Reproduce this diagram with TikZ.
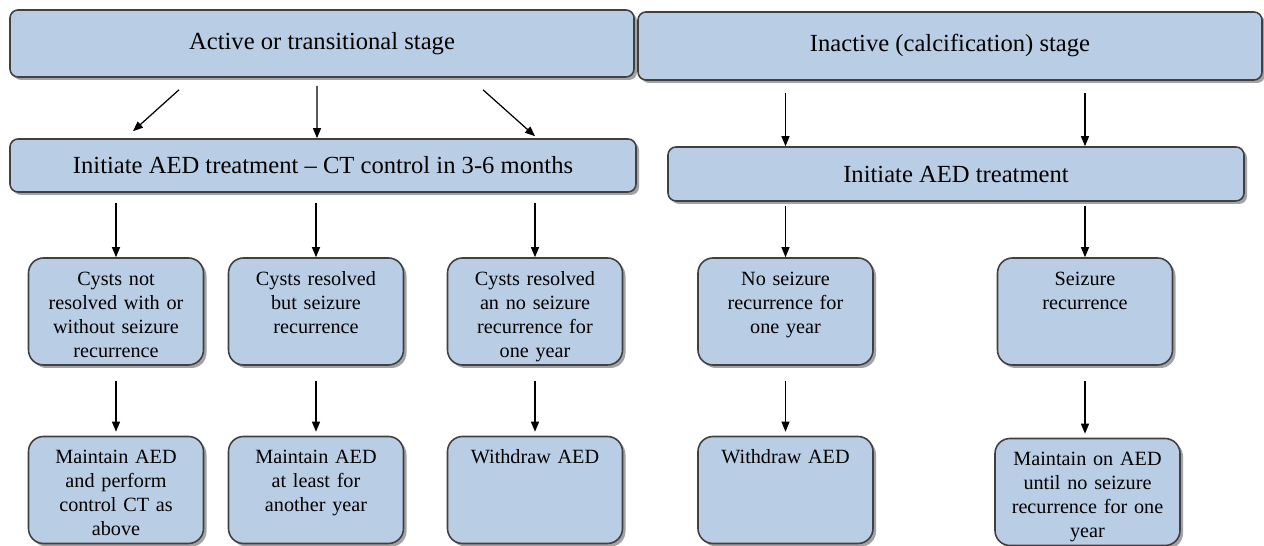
\documentclass[tikz,border=0pt]{standalone}
\usepackage{fontspec}
\setmainfont{Liberation Serif}
\usetikzlibrary{arrows.meta,shadows,calc}
\definecolor{boxblue}{RGB}{185,205,229}
\begin{document}
\begin{tikzpicture}[
  boxshadow/.style={drop shadow={shadow xshift=0.06cm, shadow yshift=-0.06cm, fill=black!65, opacity=0.55}},
  stagebox/.style={draw=black!75, line width=0.9pt, fill=boxblue, rounded corners=0.16cm, boxshadow,
    font=\fontsize{14}{17}\selectfont, inner sep=0pt},
  stepbox/.style={draw=black!75, line width=0.9pt, fill=boxblue, rounded corners=0.3cm, boxshadow,
    font=\fontsize{11.5}{13.6}\selectfont, align=center, text width=3.3cm, inner xsep=0.1cm,
    inner ysep=0.1cm, text height=0.45cm, text depth=1.49cm},
  arr/.style={-{Triangle[length=0.2cm,width=0.16cm]}, line width=0.7pt}]
\fill[white] (0,0) rectangle (25.28,10.92);
\useasboundingbox (0,0) rectangle (25.28,10.92);
\node[stagebox, minimum width=12.48cm, minimum height=1.34cm] (active) at (6.44,10.05) {Active or transitional stage};
\node[stagebox, minimum width=12.48cm, minimum height=1.36cm] (inactive) at (19.0,10.0) {Inactive (calcification) stage};
\node[stagebox, minimum width=12.52cm, minimum height=1.06cm] (initA) at (6.46,7.61) {Initiate AED treatment -- CT control in 3-6 months};
\node[stagebox, minimum width=11.52cm, minimum height=1.08cm] (initI) at (19.12,7.44) {Initiate AED treatment};
\node[stepbox] (notres) at (2.32,4.69) {Cysts not\\ resolved with or\\ without seizure\\ recurrence};
\node[stepbox] (resrec) at (6.32,4.69) {Cysts resolved\\ but seizure\\ recurrence};
\node[stepbox] (resnorec) at (10.70,4.69) {Cysts resolved\\ an no seizure\\ recurrence for\\ one year};
\node[stepbox] (norec) at (15.71,4.69) {No seizure\\ recurrence for\\ one year};
\node[stepbox] (rec) at (21.70,4.69) {Seizure\\ recurrence};
\node[stepbox] (maintctrl) at (2.32,1.12) {Maintain AED\\ and perform\\ control CT as\\ above};
\node[stepbox] (maintyear) at (6.32,1.12) {Maintain AED\\ at least for\\ another year};
\node[stepbox] (withdrawA) at (10.70,1.12) {Withdraw AED};
\node[stepbox] (withdrawI) at (15.71,1.12) {Withdraw AED};
\node[stepbox, text width=3.5cm] (maintuntil) at (21.75,1.08) {Maintain on AED\\ until no seizure\\ recurrence for one\\ year};
\draw[arr] ([xshift=-2.86cm,yshift=-0.24cm]active.south) -- ([xshift=-3.8cm,yshift=0.14cm]initA.north);
\draw[arr] ([xshift=-0.1cm,yshift=-0.16cm]active.south) -- ([xshift=-0.12cm]initA.north);
\draw[arr] ([xshift=3.22cm,yshift=-0.24cm]active.south) -- ([xshift=4.24cm,yshift=0.04cm]initA.north);
\draw[arr] ($(norec.north |- inactive.south)+(0,-0.24)$) -- (norec.north |- initI.north);
\draw[arr] ($(rec.north |- inactive.south)+(0,-0.24)$) -- (rec.north |- initI.north);
\draw[arr] ($(notres.north |- initA.south)+(0,-0.2)$) -- (notres.north);
\draw[arr] ($(resrec.north |- initA.south)+(0,-0.2)$) -- (resrec.north);
\draw[arr] ($(resnorec.north |- initA.south)+(0,-0.2)$) -- (resnorec.north);
\draw[arr] ($(norec.north |- initI.south)+(0,-0.08)$) -- (norec.north);
\draw[arr] ($(rec.north |- initI.south)+(0,-0.08)$) -- (rec.north);
\draw[arr, shorten <=0.3cm, shorten >=0.08cm] (notres.south) -- (maintctrl.north);
\draw[arr, shorten <=0.3cm, shorten >=0.08cm] (resrec.south) -- (maintyear.north);
\draw[arr, shorten <=0.3cm, shorten >=0.08cm] (resnorec.south) -- (withdrawA.north);
\draw[arr, shorten <=0.3cm, shorten >=0.08cm] (norec.south) -- (withdrawI.north);
\draw[arr, shorten <=0.3cm, shorten >=0.08cm] (rec.south) -- (rec.south |- maintuntil.north);
\end{tikzpicture}
\end{document}
